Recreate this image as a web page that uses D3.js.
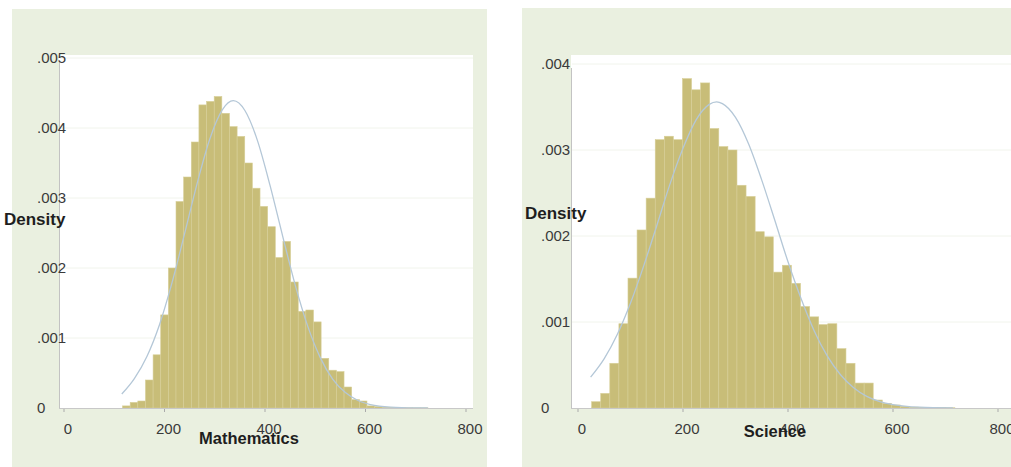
<!doctype html>
<html>
  <head>
    <meta charset="utf-8">
    <title>Mathematics and Science histograms</title>
    <script src="https://cdnjs.cloudflare.com/ajax/libs/d3/7.8.5/d3.min.js"></script>
    <style>
      body { margin: 0; background: #fff; }
      svg { display: block; }
      text { font-family: "Liberation Sans", Arial, sans-serif; }
    </style>
  </head>
  <body>
    <div id="root"></div>
    <script>
      // histogram densities, 40 bins each
      const mathBinStart = 116.5, mathBinWidth = 15.2;
      const mathDensity = [0.00003, 0.00008, 0.0001, 0.0004, 0.00076, 0.00133, 0.002, 0.00295, 0.0033, 0.0038,
        0.00433, 0.00438, 0.00445, 0.00421, 0.00402, 0.00388, 0.0035, 0.00314, 0.00288, 0.00259,
        0.00215, 0.00238, 0.0018, 0.00138, 0.0014, 0.00123, 0.00071, 0.00054, 0.00052, 0.0003,
        0.00012, 0.0001, 0.00003, 0.00002, 0.00001, 0.000006, 0.000004, 0.000003, 0.000002, 0.000002];

      const sciBinStart = 26, sciBinWidth = 17.3;
      const sciDensity = [0.000073, 0.00017, 0.00052, 0.00098, 0.00151, 0.00207, 0.00244, 0.00312, 0.00316, 0.00312,
        0.00383, 0.0037, 0.00378, 0.00325, 0.00304, 0.003, 0.00259, 0.00246, 0.00205, 0.00199,
        0.00158, 0.00166, 0.00145, 0.00118, 0.00106, 0.00097, 0.00098, 0.00069, 0.00052, 0.00029,
        0.00029, 0.000093, 0.000055, 0.000035, 0.00002, 0.00001, 0.000008, 0.000005, 0.000004, 0.000003];

      // normal overlay: [score, density]
      const mathCurve = [[115, 0.0002], [140, 0.00042], [165, 0.000736], [190, 0.00119], [215, 0.00179],
        [240, 0.00249], [265, 0.00321], [290, 0.00384], [315, 0.00426], [337, 0.00439], [360, 0.00425],
        [385, 0.00382], [410, 0.00318], [435, 0.00246], [460, 0.00176], [485, 0.00117], [510, 0.00072],
        [535, 0.00041], [560, 0.00022], [585, 0.000107], [610, 0.000049], [650, 0.000012], [700, 0.000001], [724, 0]];
      const sciCurve = [[24, 0.000358], [50, 0.000574], [75, 0.000857], [100, 0.00122], [125, 0.00165],
        [150, 0.00212], [175, 0.0026], [200, 0.00302], [225, 0.00335], [250, 0.00353], [264, 0.00356],
        [275, 0.00354], [300, 0.00338], [325, 0.00307], [350, 0.00265], [375, 0.00218], [400, 0.0017],
        [425, 0.00127], [450, 0.000896], [475, 0.000603], [500, 0.000387], [525, 0.000236], [550, 0.000136],
        [575, 0.0000754], [600, 0.0000395], [650, 0.0000094], [714, 0.0000006]];

      const xTicks = [0, 200, 400, 600, 800];
      const mathYTicks = [0, 0.001, 0.002, 0.003, 0.004, 0.005];
      const sciYTicks = [0, 0.001, 0.002, 0.003, 0.004];
      const yTickLabel = d => d === 0 ? "0" : d3.format(".3f")(d).replace(/^0/, "");

      const W = 1011, H = 467;
      const svg = d3.select("#root").append("svg").attr("width", W).attr("height", H);

      const panels = [
        { bg: [12, 9, 475, 470], plot: [59, 55, 473, 408], xr: [64, 466], ymax: 0.005, yTop: 58,
          bins: mathDensity, start: mathBinStart, bw: mathBinWidth, curve: mathCurve, yTicks: mathYTicks,
          yLabX: 37, dens: [4, 225], title: "Mathematics", titlePos: [249, 444] },
        { bg: [522, 8, 500, 470], plot: [571, 55, 1020, 408], xr: [578, 998], ymax: 0.004, yTop: 64,
          bins: sciDensity, start: sciBinStart, bw: sciBinWidth, curve: sciCurve, yTicks: sciYTicks,
          yLabX: 541, dens: [525, 219], title: "Science", titlePos: [775, 437] }
      ];

      panels.forEach(p => {
        const g = svg.append("g");
        const [px0, py0, px1, py1] = p.plot;

        g.append("rect").attr("x", p.bg[0]).attr("y", p.bg[1])
          .attr("width", p.bg[2]).attr("height", p.bg[3]).attr("fill", "#eaf0e0");
        g.append("rect").attr("x", px0).attr("y", py0)
          .attr("width", px1 - px0).attr("height", py1 - py0).attr("fill", "#fff");

        const x = d3.scaleLinear().domain([0, 800]).range(p.xr);
        const y = d3.scaleLinear().domain([0, p.ymax]).range([py1, p.yTop]);

        // faint grid
        g.selectAll(".grid").data(p.yTicks.filter(d => d > 0)).enter().append("line")
          .attr("x1", px0 + 1).attr("x2", px1).attr("y1", d => y(d)).attr("y2", d => y(d))
          .attr("stroke", "#f1f4ec").attr("stroke-width", 1);

        // bars
        g.selectAll(".bar").data(p.bins).enter().append("rect")
          .attr("x", (d, i) => x(p.start + i * p.bw))
          .attr("width", (d, i) => x(p.start + (i + 1) * p.bw) - x(p.start + i * p.bw))
          .attr("y", d => y(d))
          .attr("height", d => py1 - y(d))
          .attr("fill", "#c8bd78")
          .attr("stroke", "#d7cf98")
          .attr("stroke-width", 0.6);

        // normal density overlay
        g.append("path").datum(p.curve)
          .attr("d", d3.line().x(d => x(d[0])).y(d => y(d[1])).curve(d3.curveMonotoneX))
          .attr("fill", "none").attr("stroke", "#b4c7d7").attr("stroke-width", 1.3);

        // axes lines
        g.append("line").attr("x1", px0 + 0.5).attr("x2", px0 + 0.5)
          .attr("y1", p.yTop + 4).attr("y2", py1).attr("stroke", "#c3c3c3");
        g.append("line").attr("x1", px0).attr("x2", px1).attr("y1", py1 + 0.5).attr("y2", py1 + 0.5)
          .attr("stroke", "#c8c8c8");

        g.selectAll(".xtick").data(xTicks).enter().append("line")
          .attr("x1", d => x(d)).attr("x2", d => x(d))
          .attr("y1", py1 + 1).attr("y2", py1 + 4).attr("stroke", "#aaa");

        g.selectAll(".xlab").data(xTicks).enter().append("text")
          .attr("x", d => x(d) + 4).attr("y", 433.5)
          .attr("text-anchor", "middle").attr("font-size", 15).attr("fill", "#3a3a3a")
          .text(d => d);

        g.selectAll(".ylab").data(p.yTicks).enter().append("text")
          .attr("x", p.yLabX).attr("y", d => y(d) + 4.5)
          .attr("font-size", 15).attr("fill", "#3a3a3a")
          .text(yTickLabel);

        g.append("text").attr("x", p.dens[0]).attr("y", p.dens[1])
          .attr("font-size", 17).attr("font-weight", "bold").attr("fill", "#1e1e1e")
          .text("Density");

        g.append("text").attr("x", p.titlePos[0]).attr("y", p.titlePos[1])
          .attr("text-anchor", "middle").attr("font-size", 16.5).attr("font-weight", "bold")
          .attr("fill", "#1e1e1e").text(p.title);
      });
    </script>
  </body>
</html>
